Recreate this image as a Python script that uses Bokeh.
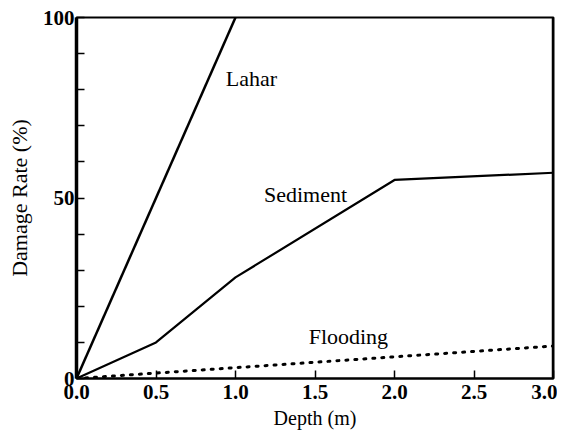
from bokeh.plotting import figure
from bokeh.models import Range1d, FixedTicker, Span, ColumnDataSource, NumeralTickFormatter
from bokeh.embed import file_html
from bokeh.resources import INLINE
from bokeh.core.properties import value

# Data
lahar_x = [0.0, 1.0]
lahar_y = [0, 100]
sediment_x = [0.0, 0.5, 1.0, 2.0, 3.0]
sediment_y = [0, 10, 28, 55, 57]
flooding_x = [0.0, 3.0]
flooding_y = [0, 9]
x_ticks = [0.0, 0.5, 1.0, 1.5, 2.0, 2.5, 3.0]
y_ticks = [0, 50, 100]
y_minor = [10, 20, 30, 40, 60, 70, 80, 90]
label_names = ["Lahar", "Sediment", "Flooding"]
label_x = [1.10, 1.44, 1.71]
label_y = [83, 51, 11.5]
x_title = "Depth (m)"
y_title = "Damage Rate (%)"

FONT = "Times"

p = figure(width=557, height=431, output_backend="svg", toolbar_location=None,
           x_range=Range1d(0, 3), y_range=Range1d(0, 100),
           min_border_left=76, min_border_top=17, min_border_right=4, min_border_bottom=53)
p.frame_width = 477
p.frame_height = 361

p.grid.visible = False
p.outline_line_color = "black"
p.outline_line_width = 2
p.background_fill_color = "white"
p.border_fill_color = "white"

p.xaxis.ticker = FixedTicker(ticks=x_ticks)
p.yaxis.ticker = FixedTicker(ticks=y_ticks, minor_ticks=y_minor)
p.xaxis.formatter = NumeralTickFormatter(format="0.0")

for ax in (p.xaxis, p.yaxis):
    ax.axis_line_color = "black"
    ax.major_tick_line_color = "black"
    ax.major_tick_in = 8
    ax.major_tick_out = 0
    ax.major_label_text_font = FONT
    ax.major_label_text_font_size = "21px"
    ax.major_label_text_font_style = "bold"
    ax.major_label_text_color = "black"
    ax.axis_label_text_font = FONT
    ax.axis_label_text_font_style = "normal"
    ax.axis_label_text_color = "black"

p.xaxis.minor_tick_line_color = None
p.xaxis.axis_line_width = 2
p.xaxis.major_tick_line_width = 1.5
p.xaxis.major_label_standoff = 6
p.xaxis.axis_label = x_title
p.xaxis.axis_label_text_font_size = "20px"
p.xaxis.axis_label_standoff = 5

p.yaxis.axis_line_width = 3.5
p.yaxis.major_tick_line_width = 1.5
p.yaxis.minor_tick_in = 8
p.yaxis.minor_tick_out = 0
p.yaxis.minor_tick_line_color = "black"
p.yaxis.minor_tick_line_width = 1.5
p.yaxis.major_label_standoff = 2
p.yaxis.axis_label = y_title
p.yaxis.axis_label_text_font_size = "22px"
p.yaxis.axis_label_standoff = 8

p.add_layout(Span(location=3, dimension="height", line_color="black", line_width=3.5))

p.line(lahar_x, lahar_y, line_color="black", line_width=2.5)
p.line(sediment_x, sediment_y, line_color="black", line_width=2.2)
p.line(flooding_x, flooding_y, line_color="black", line_width=3, line_dash="2 7", line_cap="round")

src = ColumnDataSource(dict(x=label_x, y=label_y, t=label_names))
p.text(x="x", y="y", text="t", source=src, text_font=value(FONT), text_font_size="22px",
       text_align="center", text_baseline="middle", text_color="black")

open("out.html", "w").write(file_html(p, INLINE))
